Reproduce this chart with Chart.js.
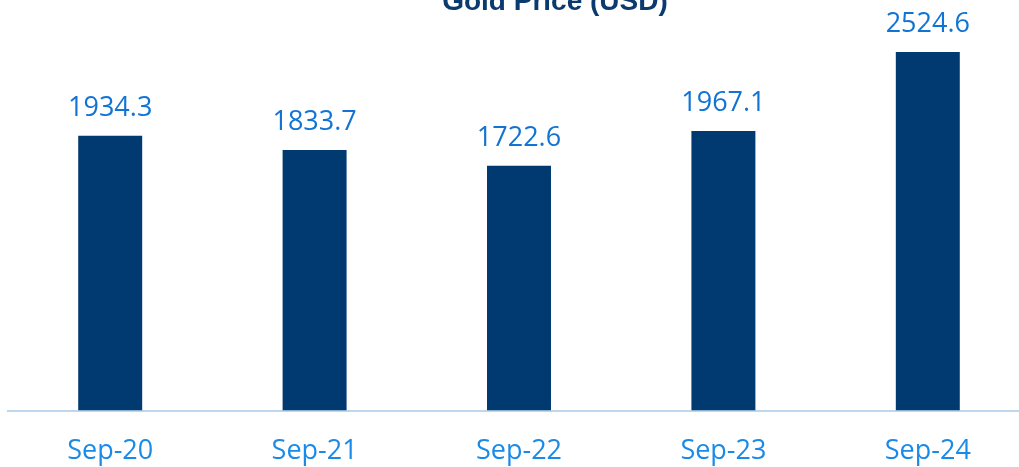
<!DOCTYPE html>
<html>
<head>
<meta charset="utf-8">
<script src="https://cdn.jsdelivr.net/npm/chart.js@4/dist/chart.umd.min.js"></script>
<style>
  html, body { margin: 0; padding: 0; background: #fff; overflow: hidden; }
  #wrap { position: absolute; left: 0; top: 0; width: 1031px; height: 493px; }
</style>
</head>
<body>
<div id="wrap"><canvas id="chart"></canvas></div>
<script>
// Gold price at end of September, USD/oz
const categories = ['Sep-20', 'Sep-21', 'Sep-22', 'Sep-23', 'Sep-24'];
const goldPrice = [1934.3, 1833.7, 1722.6, 1967.1, 2524.6];
const chartTitle = 'Gold Price (USD)';

const BAR_COLOR = '#003A70';
const LABEL_COLOR = '#1174D4';
const TICK_COLOR = '#1A8AE8';
const LABEL_FONT = '27px "Open Sans"';

// draws the value above each bar
const valueLabels = {
    id: 'valueLabels',
    afterDatasetsDraw(chart) {
        const ctx = chart.ctx;
        const meta = chart.getDatasetMeta(0);
        ctx.save();
        ctx.font = LABEL_FONT;
        ctx.fillStyle = LABEL_COLOR;
        ctx.textAlign = 'center';
        ctx.textBaseline = 'alphabetic';
        meta.data.forEach((bar, i) => {
            ctx.fillText(goldPrice[i].toFixed(1), bar.x, bar.y - 20);
        });
        ctx.restore();
    }
};

// title sits partly above the top edge, as in the source image
const topTitle = {
    id: 'topTitle',
    afterDraw(chart) {
        const ctx = chart.ctx;
        ctx.save();
        ctx.font = 'bold 28px "Liberation Sans", Arial, sans-serif';
        ctx.fillStyle = '#0B3A6E';
        ctx.textAlign = 'center';
        ctx.textBaseline = 'alphabetic';
        ctx.fillText(chartTitle, 555, 10);
        ctx.restore();
    }
};

new Chart(document.getElementById('chart'), {
    type: 'bar',
    data: {
        labels: categories,
        datasets: [{
            label: chartTitle,
            data: goldPrice,
            backgroundColor: BAR_COLOR,
            barPercentage: 0.313,
            categoryPercentage: 1.0
        }]
    },
    options: {
        responsive: true,
        maintainAspectRatio: false,
        animation: false,
        layout: { padding: { left: 8, right: 1, top: 0, bottom: 0 } },
        plugins: {
            legend: { display: false },
            title: { display: false },
            tooltip: { enabled: false }
        },
        scales: {
            x: {
                grid: { display: false, drawTicks: false },
                border: { display: true, color: '#BDD7EE', width: 2 },
                ticks: {
                    color: TICK_COLOR,
                    font: { family: 'Open Sans', size: 27 },
                    padding: 25,
                    autoSkip: false,
                    maxRotation: 0
                }
            },
            y: {
                display: false,
                min: 0,
                max: 2890
            }
        }
    },
    plugins: [valueLabels, topTitle]
});
</script>
</body>
</html>
